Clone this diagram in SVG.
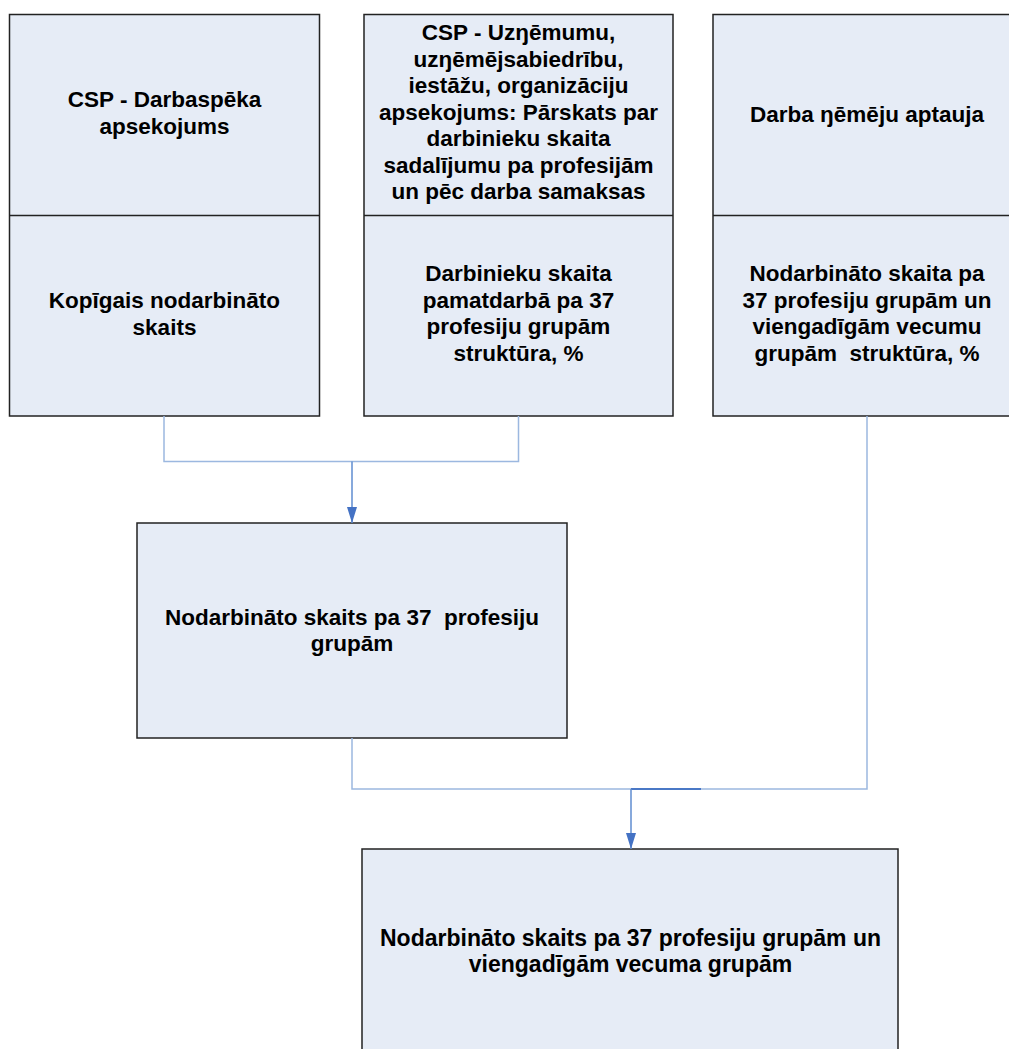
<svg xmlns="http://www.w3.org/2000/svg" width="1009" height="1049" viewBox="0 0 1009 1049">
  <style>
    .box { fill: #e6ecf6; stroke: #222222; stroke-width: 1.5; }
    .div { stroke: #222222; stroke-width: 1.5; }
    .t { font-family: "Liberation Sans", Arial, sans-serif; font-weight: bold; font-size: 22.5px; fill: #000000; text-anchor: middle; white-space: pre; }
    .t5 { font-size: 23px; }
    .wire { fill: none; stroke: #9cb8e0; stroke-width: 1.5; }
    .shaft { fill: none; stroke: #5f8cd0; stroke-width: 1.5; }
    .seg { fill: none; stroke: #4a78c6; stroke-width: 2; }
  </style>
  <defs>
    <marker id="arrow" viewBox="0 0 16 10" refX="16" refY="5" markerWidth="16" markerHeight="10" markerUnits="userSpaceOnUse" orient="auto">
      <path d="M0,0 L16,5 L0,10 Z" fill="#4472c4"/>
    </marker>
  </defs>

  <rect width="1009" height="1049" fill="#ffffff"/>

  <!-- Source: labour force survey -->
  <g id="node-darbaspeka">
    <rect class="box" x="9.5" y="14.5" width="310" height="401.5"/>
    <line class="div" x1="9.5" y1="215.5" x2="319.5" y2="215.5"/>
    <text class="t" x="164.5" y="107">CSP - Darbaspēka</text>
    <text class="t" x="164.5" y="133.5">apsekojums</text>
    <text class="t" x="164.5" y="308">Kopīgais nodarbināto</text>
    <text class="t" x="164.5" y="334.5">skaits</text>
  </g>

  <!-- Source: enterprise survey -->
  <g id="node-uznemumu">
    <rect class="box" x="364" y="14.5" width="309" height="401.5"/>
    <line class="div" x1="364" y1="215.5" x2="673" y2="215.5"/>
    <text class="t" x="518.5" y="40">CSP - Uzŋēmumu,</text>
    <text class="t" x="518.5" y="66.5">uzŋēmējsabiedrību,</text>
    <text class="t" x="518.5" y="93">iestāžu, organizāciju</text>
    <text class="t" x="518.5" y="119.5">apsekojums: Pārskats par</text>
    <text class="t" x="518.5" y="146">darbinieku skaita</text>
    <text class="t" x="518.5" y="172.5">sadalījumu pa profesijām</text>
    <text class="t" x="518.5" y="199">un pēc darba samaksas</text>
    <text class="t" x="518.5" y="281">Darbinieku skaita</text>
    <text class="t" x="518.5" y="307.5">pamatdarbā pa 37</text>
    <text class="t" x="518.5" y="334">profesiju grupām</text>
    <text class="t" x="518.5" y="360.5">struktūra, %</text>
  </g>

  <!-- Source: employee survey -->
  <g id="node-aptauja">
    <rect class="box" x="713" y="14.5" width="310" height="401.5"/>
    <line class="div" x1="713" y1="215.5" x2="1023" y2="215.5"/>
    <text class="t" x="867" y="122">Darba ŋēmēju aptauja</text>
    <text class="t" x="867" y="281">Nodarbināto skaita pa</text>
    <text class="t" x="867" y="307.5">37 profesiju grupām un</text>
    <text class="t" x="867" y="334">viengadīgām vecumu</text>
    <text class="t" x="867" y="360.5">grupām  struktūra, %</text>
  </g>

  <!-- Intermediate result -->
  <g id="node-profesiju">
    <rect class="box" x="137" y="523" width="430" height="215"/>
    <text class="t" x="352" y="624.5">Nodarbināto skaits pa 37  profesiju</text>
    <text class="t" x="352" y="651">grupām</text>
  </g>

  <!-- Final result -->
  <g id="node-vecuma">
    <rect class="box" x="362" y="849" width="536" height="220"/>
    <text class="t t5" x="630.5" y="945.5">Nodarbināto skaits pa 37 profesiju grupām un</text>
    <text class="t t5" x="630.5" y="971.5">viengadīgām vecuma grupām</text>
  </g>

  <!-- Connectors -->
  <g id="connectors">
    <polyline class="wire" points="164,416 164,461.5 518.5,461.5 518.5,416"/>
    <line class="shaft" x1="352" y1="461.5" x2="352" y2="523" marker-end="url(#arrow)"/>
    <polyline class="wire" points="352,738 352,789 867,789 867,416"/>
    <line class="seg" x1="631" y1="789" x2="701" y2="789"/>
    <line class="shaft" x1="631" y1="789" x2="631" y2="849" marker-end="url(#arrow)"/>
  </g>
</svg>
